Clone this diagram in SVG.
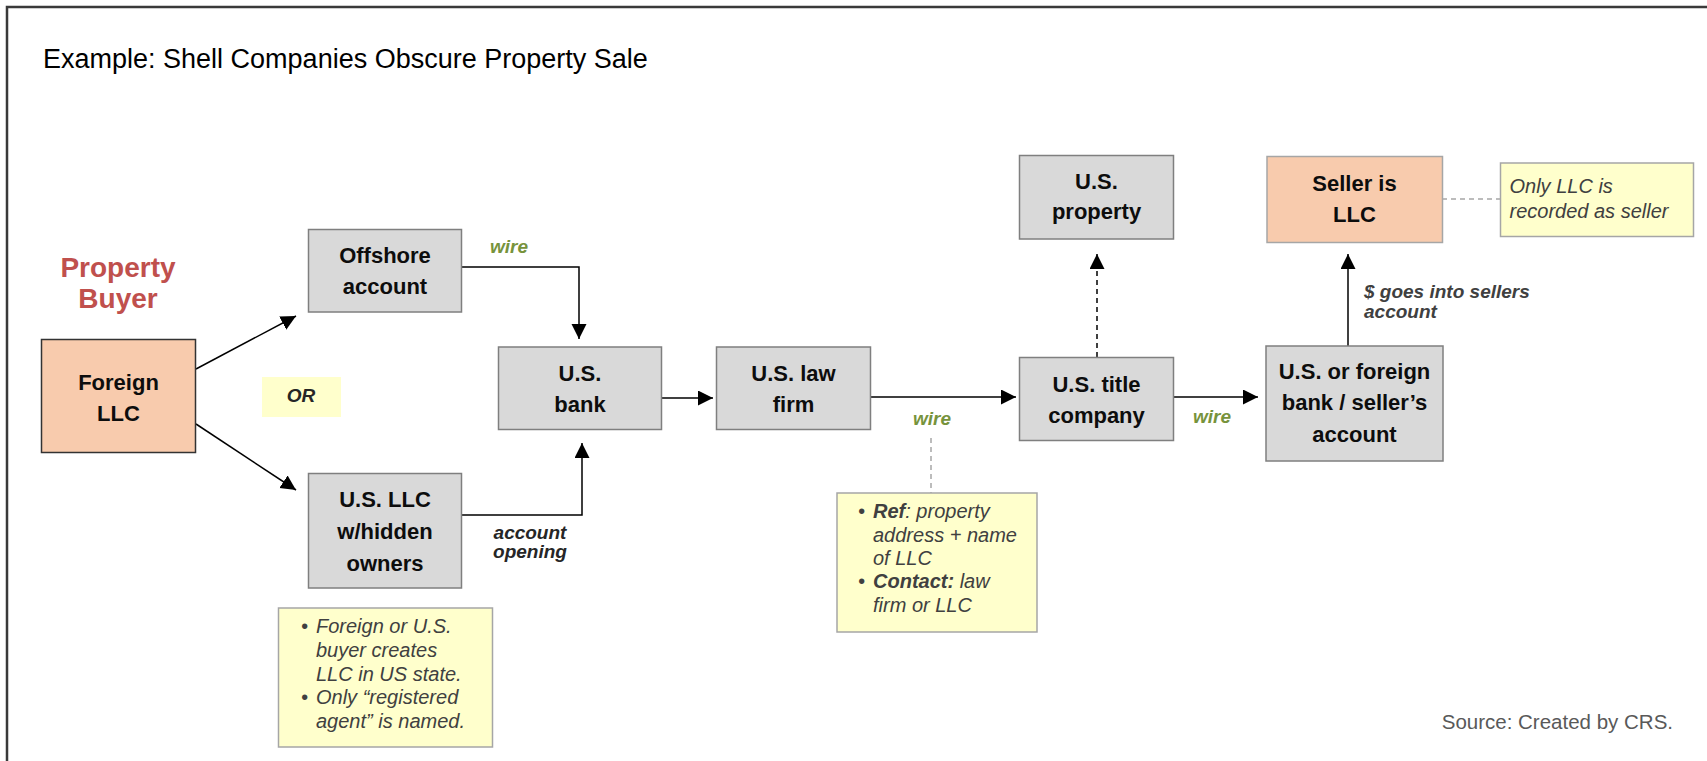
<svg xmlns="http://www.w3.org/2000/svg" width="1707" height="761" viewBox="0 0 1707 761">
<style>
  .box{fill:#d9d9d9;stroke:#7f7f7f;stroke-width:1.5}
  .peach{fill:#f8cbad}
  .note{fill:#ffffcc;stroke:#a6a6a6;stroke-width:1.5}
  .nt{font-family:"Liberation Sans",Arial,sans-serif;font-size:22px;font-weight:bold;fill:#0d0d0d;text-anchor:middle}
  .lbl{font-family:"Liberation Sans",Arial,sans-serif;font-size:19px;font-weight:bold;font-style:italic}
  .green{fill:#77933c}
  .dark{fill:#262626}
  .ntxt{font-family:"Liberation Sans",Arial,sans-serif;font-size:20px;font-style:italic;fill:#404040}
  .b{font-weight:bold}
  .conn{stroke:#000;stroke-width:1.5;fill:none}
  .dash{stroke:#000;stroke-width:1.5;fill:none;stroke-dasharray:5 4}
  .gdash{stroke:#a6a6a6;stroke-width:1.5;fill:none;stroke-dasharray:5 4}
</style>
<defs>
  <marker id="ah" markerUnits="userSpaceOnUse" markerWidth="16" markerHeight="16" viewBox="0 0 16 16" refX="15" refY="7.5" orient="auto">
    <path d="M0,0 L15,7.5 L0,15 Z" fill="#000"/>
  </marker>
</defs>
<rect x="0" y="0" width="1707" height="761" fill="#fff"/>
<path d="M7,761 V7 H1707" fill="none" stroke="#3a3a3a" stroke-width="2.5"/>
<text x="43" y="68" font-family="Liberation Sans,Arial,sans-serif" font-size="27" fill="#000">Example: Shell Companies Obscure Property Sale</text>

<g id="connectors">
  <path class="conn" d="M196,369 L296,316" marker-end="url(#ah)"/>
  <path class="conn" d="M196,424 L296,490" marker-end="url(#ah)"/>
  <path class="conn" d="M462,267 H579 V339" marker-end="url(#ah)"/>
  <path class="conn" d="M462,515 H582 V443" marker-end="url(#ah)"/>
  <path class="conn" d="M661,398 H713" marker-end="url(#ah)"/>
  <path class="conn" d="M871,397 H1016" marker-end="url(#ah)"/>
  <path class="conn" d="M1174,397 H1258" marker-end="url(#ah)"/>
  <path class="dash" d="M1097,357 V254" marker-end="url(#ah)"/>
  <path class="conn" d="M1348,346 V254" marker-end="url(#ah)"/>
  <path class="gdash" d="M931,438 V493"/>
  <path class="gdash" d="M1442,199 H1500"/>
  <text class="lbl green" x="509" y="253" text-anchor="middle">wire</text>
  <text class="lbl dark" x="530" y="539" text-anchor="middle">account</text>
  <text class="lbl dark" x="530" y="558" text-anchor="middle">opening</text>
  <text class="lbl green" x="932" y="425" text-anchor="middle">wire</text>
  <text class="lbl green" x="1212" y="423" text-anchor="middle">wire</text>
  <text class="lbl" x="1364" y="298" fill="#404040">$ goes into sellers</text>
  <text class="lbl" x="1364" y="318" fill="#404040">account</text>
</g>

<g id="property-buyer">
  <text x="118" y="277" font-family="Liberation Sans,Arial,sans-serif" font-size="28" font-weight="bold" fill="#c0504d" text-anchor="middle">Property</text>
  <text x="118" y="308" font-family="Liberation Sans,Arial,sans-serif" font-size="28" font-weight="bold" fill="#c0504d" text-anchor="middle">Buyer</text>
</g>

<g id="foreign-llc">
  <rect class="peach" x="41.5" y="339.5" width="154" height="113" stroke="#333" stroke-width="1.5"/>
  <text class="nt" x="118.5" y="390">Foreign</text>
  <text class="nt" x="118.5" y="421">LLC</text>
</g>

<g id="or-label">
  <rect x="262" y="377" width="79" height="40" fill="#ffffcc"/>
  <text class="lbl dark" x="301" y="402" text-anchor="middle">OR</text>
</g>

<g id="offshore-account">
  <rect class="box" x="308.5" y="229.5" width="153" height="82.5"/>
  <text class="nt" x="385" y="263">Offshore</text>
  <text class="nt" x="385" y="294">account</text>
</g>

<g id="us-llc">
  <rect class="box" x="308.5" y="473.5" width="153" height="114.5"/>
  <text class="nt" x="385" y="507">U.S. LLC</text>
  <text class="nt" x="385" y="539">w/hidden</text>
  <text class="nt" x="385" y="571">owners</text>
</g>

<g id="note-llc">
  <rect class="note" x="278.5" y="608" width="214" height="139"/>
  <text class="ntxt" x="301" y="633">•</text>
  <text class="ntxt" x="316" y="633">Foreign or U.S.</text>
  <text class="ntxt" x="316" y="657">buyer creates</text>
  <text class="ntxt" x="316" y="681">LLC in US state.</text>
  <text class="ntxt" x="301" y="704">•</text>
  <text class="ntxt" x="316" y="704">Only “registered</text>
  <text class="ntxt" x="316" y="728">agent” is named.</text>
</g>

<g id="us-bank">
  <rect class="box" x="498.5" y="347" width="163" height="82.5"/>
  <text class="nt" x="580" y="381">U.S.</text>
  <text class="nt" x="580" y="412">bank</text>
</g>

<g id="us-law-firm">
  <rect class="box" x="716.5" y="347" width="154" height="82.5"/>
  <text class="nt" x="793.5" y="381">U.S. law</text>
  <text class="nt" x="793.5" y="412">firm</text>
</g>

<g id="note-wire">
  <rect class="note" x="837" y="493" width="200" height="139"/>
  <text class="ntxt" x="858" y="518">•</text>
  <text class="ntxt" x="873" y="518"><tspan class="b">Ref</tspan>: property</text>
  <text class="ntxt" x="873" y="542">address + name</text>
  <text class="ntxt" x="873" y="565">of LLC</text>
  <text class="ntxt" x="858" y="588">•</text>
  <text class="ntxt" x="873" y="588"><tspan class="b">Contact:</tspan> law</text>
  <text class="ntxt" x="873" y="612">firm or LLC</text>
</g>

<g id="us-property">
  <rect class="box" x="1019.5" y="155.5" width="154" height="83.5"/>
  <text class="nt" x="1096.5" y="189">U.S.</text>
  <text class="nt" x="1096.5" y="219">property</text>
</g>

<g id="us-title-company">
  <rect class="box" x="1019.5" y="357.5" width="154" height="83"/>
  <text class="nt" x="1096.5" y="392">U.S. title</text>
  <text class="nt" x="1096.5" y="423">company</text>
</g>

<g id="seller-llc">
  <rect class="peach" x="1267" y="156.5" width="175.5" height="86" stroke="#a6a6a6" stroke-width="1.5"/>
  <text class="nt" x="1354.5" y="191">Seller is</text>
  <text class="nt" x="1354.5" y="222">LLC</text>
</g>

<g id="note-seller">
  <rect class="note" x="1500.5" y="163" width="193" height="73.5"/>
  <text class="ntxt" x="1509.5" y="193">Only LLC is</text>
  <text class="ntxt" x="1509.5" y="218">recorded as seller</text>
</g>

<g id="seller-bank">
  <rect class="box" x="1266" y="346" width="177" height="115"/>
  <text class="nt" x="1354.5" y="379">U.S. or foreign</text>
  <text class="nt" x="1354.5" y="410">bank / seller’s</text>
  <text class="nt" x="1354.5" y="442">account</text>
</g>

<text x="1673" y="729" font-family="Liberation Sans,Arial,sans-serif" font-size="20.5" fill="#595959" text-anchor="end">Source: Created by CRS.</text>
</svg>
